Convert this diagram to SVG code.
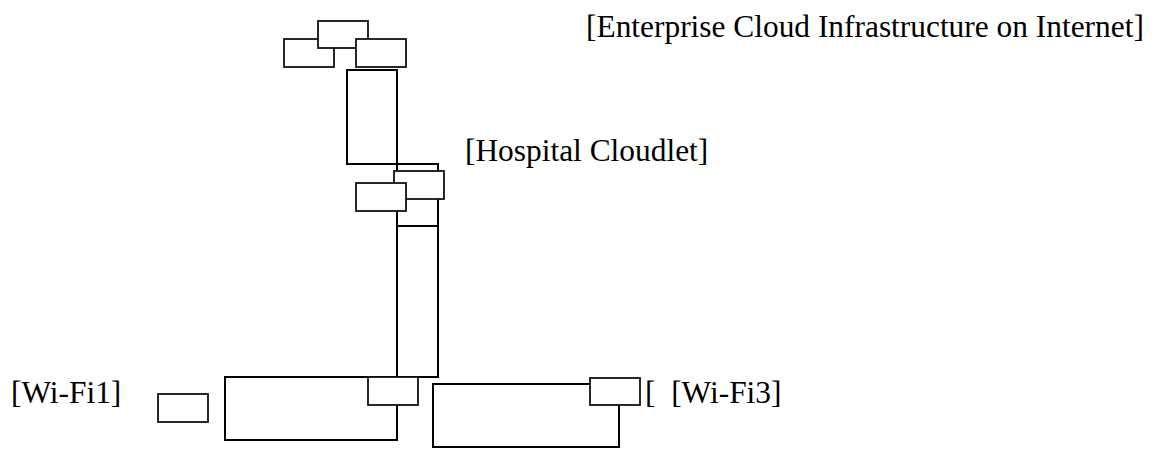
<svg xmlns="http://www.w3.org/2000/svg" width="1156" height="449" viewBox="0 0 1156 449">
<style>
.b{fill:#fff;stroke:#000;stroke-width:2}
.s{fill:#fff;stroke:#111;stroke-width:1.8}
text{font-family:'Liberation Serif','Times New Roman',Times,serif;font-size:31.4px;fill:#000}
</style>
<rect width="1156" height="449" fill="#fff"/>
<g id="connectors"></g>
<g id="cloud">
<rect class="s" x="284" y="39" width="50" height="28"/>
<rect class="s" x="318" y="21" width="50" height="27"/>
<rect class="s" x="356" y="39" width="50" height="28"/>
<rect class="b" x="347" y="70" width="50" height="94"/>
</g>
<g id="column">
<rect class="b" x="397" y="164" width="41" height="62"/>
<rect class="b" x="397" y="226" width="41" height="151"/>
<rect class="s" x="394" y="171" width="50" height="28"/>
<rect class="s" x="356" y="183" width="50" height="28"/>
</g>
<g id="wifi1">
<rect class="s" x="158" y="394" width="50" height="28"/>
<rect class="b" x="225" y="377" width="172" height="63"/>
<rect class="s" x="368" y="377" width="50" height="28"/>
</g>
<g id="wifi3">
<rect class="b" x="433" y="384" width="186" height="63"/>
<rect class="s" x="590" y="378" width="50" height="27"/>
</g>
<g id="labels">
<text x="586" y="37">[Enterprise Cloud Infrastructure on Internet]</text>
<text x="465" y="161">[Hospital Cloudlet]</text>
<text x="11" y="403">[Wi-Fi1]</text>
<text x="645" y="403" xml:space="preserve">[  [Wi-Fi3]</text>
</g>
</svg>
